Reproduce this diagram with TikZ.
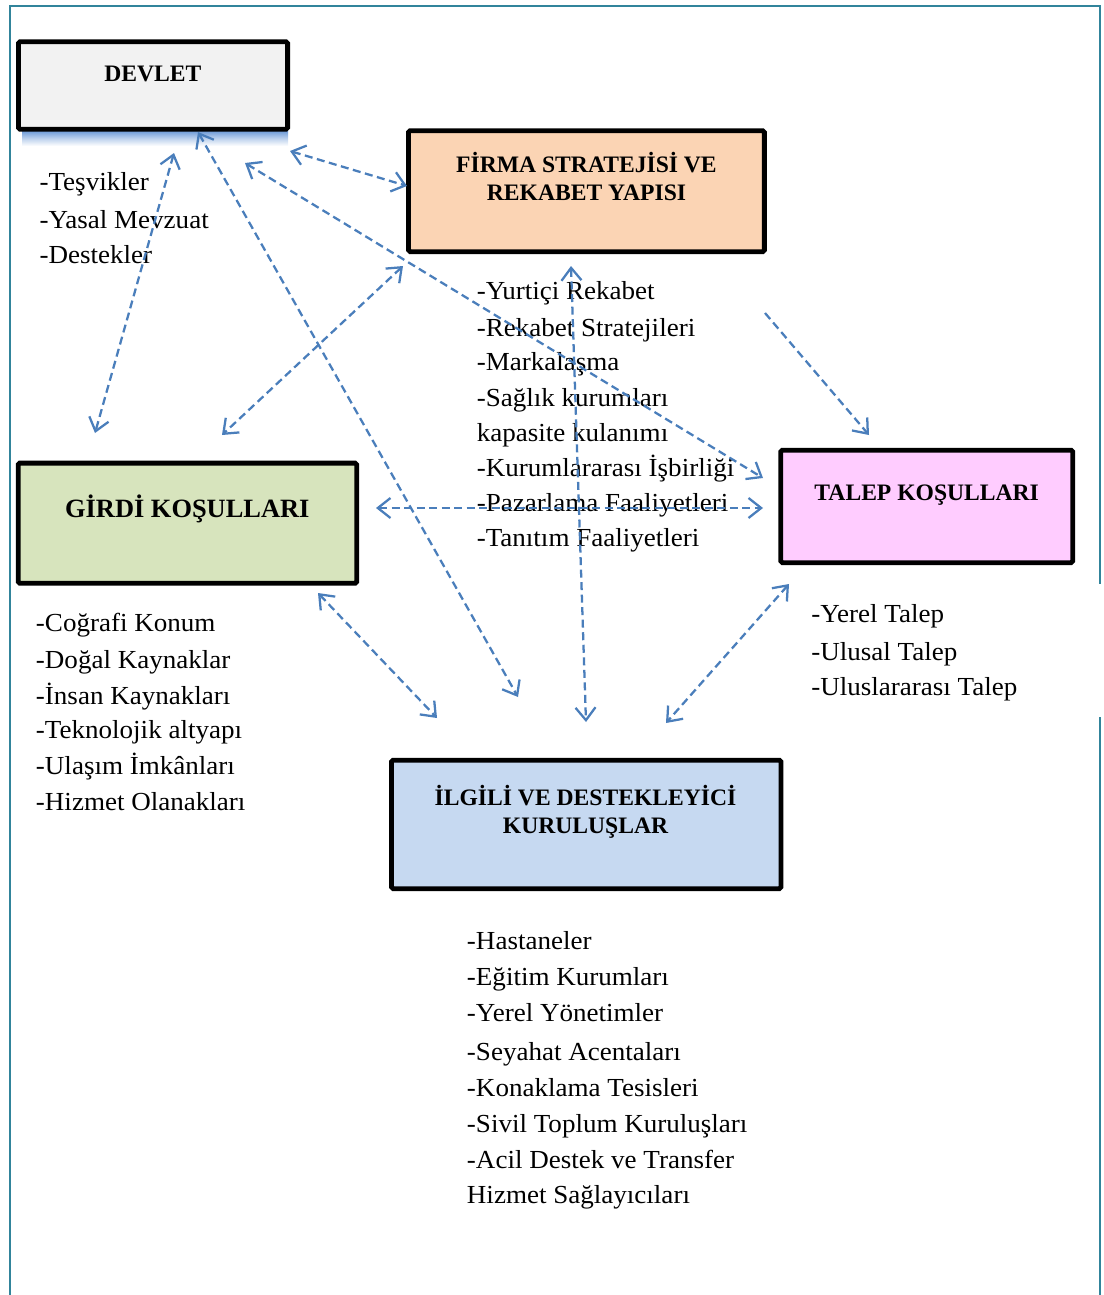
\documentclass[tikz,border=0pt]{standalone}
\usepackage{fontspec}
\setmainfont{Liberation Serif}
\newfontfamily\listfont{Liberation Serif}[FakeStretch=1.04]
\usetikzlibrary{arrows.meta}

\definecolor{framec}{HTML}{31849B}
\definecolor{arrowc}{HTML}{4A7EBB}
\definecolor{shadowc}{RGB}{110,155,215}
\definecolor{devletfill}{HTML}{F2F2F2}
\definecolor{firmafill}{HTML}{FBD4B4}
\definecolor{talepfill}{HTML}{FFCCFF}
\definecolor{girdifill}{HTML}{D7E4BD}
\definecolor{ilgilifill}{HTML}{C6D9F1}

\begin{document}
\begin{tikzpicture}[x=0.75pt,y=-0.75pt,
  box/.style={draw=black, line width=3.6pt, rounded corners=1.2pt, inner sep=0pt},
  boxtitle/.style={font=\bfseries\fontsize{17.7}{21}\selectfont, anchor=base, inner sep=0pt},
  item/.style={font=\listfont\fontsize{19.5}{23}\selectfont, anchor=base west, inner sep=0pt},
  link/.style={draw=arrowc, line width=1.7pt, dash pattern=on 6pt off 3.4pt},
  >={Straight Barb[length=9.5pt,width=15pt,line width=1.7pt]}]

\useasboundingbox (0,0) rectangle (1103,1295);

% page frame, interrupted on the right behind the demand list
\draw[framec, line width=1.6pt] (10,1300) -- (10,6) -- (1100,6) -- (1100,584);
\draw[framec, line width=1.6pt] (1100,717) -- (1100,1300);

% soft blue shadow below the state box
\shade[top color=shadowc, bottom color=white, middle color=shadowc!45] (22,131) rectangle (288,146);

% boxes
\node[box, fill=devletfill, minimum width={269.2*0.75pt}, minimum height={87.6*0.75pt}] (devlet) at (153,85.5) {};
\node[box, fill=firmafill, minimum width={355.9*0.75pt}, minimum height={120.9*0.75pt}] (firma) at (586.4,191.2) {};
\node[box, fill=talepfill, minimum width={291.9*0.75pt}, minimum height={112.5*0.75pt}] (talep) at (926.7,506.4) {};
\node[box, fill=girdifill, minimum width={338.5*0.75pt}, minimum height={120.2*0.75pt}] (girdi) at (187.4,523.2) {};
\node[box, fill=ilgilifill, minimum width={389.5*0.75pt}, minimum height={128.5*0.75pt}] (ilgili) at (586.2,824.4) {};

% box titles
\node[boxtitle] (devletT) at (152.8,81.7) {DEVLET};
\node[boxtitle] (firmaTa) at (586.5,172.7) {FİRMA STRATEJİSİ VE};
\node[boxtitle] (firmaTb) at (586.5,200) {REKABET YAPISI};
\node[boxtitle] (talepT) at (926.7,500.7) {TALEP KOŞULLARI};
\node[boxtitle, font=\bfseries\fontsize{19.8}{23}\selectfont] (girdiT) at (187.3,517.3) {GİRDİ KOŞULLARI};
\node[boxtitle] (ilgiliTa) at (585.5,805) {İLGİLİ VE DESTEKLEYİCİ};
\node[boxtitle] (ilgiliTb) at (585.5,833.3) {KURULUŞLAR};

% lists of factors
\foreach \y/\t [count=\i] in {190/{-Teşvikler}, 228/{-Yasal Mevzuat}, 263/{-Destekler}}
  \node[item] (devletL\i) at (39.3,\y) {\t};

\foreach \y/\t [count=\i] in {299.3/{-Yurtiçi Rekabet}, 336/{-Rekabet Stratejileri},
    370.7/{-Markalaşma}, 406.2/{-Sağlık kurumları}, 441.4/{kapasite kulanımı},
    476/{-Kurumlararası İşbirliği}, 511.5/{-Pazarlama Faaliyetleri}, 546.5/{-Tanıtım Faaliyetleri}}
  \node[item] (firmaL\i) at (476.5,\y) {\t};

\foreach \y/\t [count=\i] in {631.7/{-Coğrafi Konum}, 668.3/{-Doğal Kaynaklar},
    704/{-İnsan Kaynakları}, 738.3/{-Teknolojik altyapı}, 774/{-Ulaşım İmkânları},
    810/{-Hizmet Olanakları}}
  \node[item] (girdiL\i) at (35.7,\y) {\t};

\foreach \y/\t [count=\i] in {622.3/{-Yerel Talep}, 660/{-Ulusal Talep}, 695/{-Uluslararası Talep}}
  \node[item] (talepL\i) at (811,\y) {\t};

\foreach \y/\t [count=\i] in {949.3/{-Hastaneler}, 985/{-Eğitim Kurumları},
    1021.7/{-Yerel Yönetimler}, 1060/{-Seyahat Acentaları}, 1096/{-Konaklama Tesisleri},
    1132.7/{-Sivil Toplum Kuruluşları}, 1168.3/{-Acil Destek ve Transfer},
    1203.3/{Hizmet Sağlayıcıları}}
  \node[item] (ilgiliL\i) at (466.7,\y) {\t};

% connector end points
\coordinate (dvF)  at (290,151);
\coordinate (fmD)  at (407,186);
\coordinate (dvT)  at (245,163);
\coordinate (tlD)  at (763,478);
\coordinate (dvG)  at (174,153);
\coordinate (gdD)  at (95,433);
\coordinate (dvI)  at (198,132);
\coordinate (ilD)  at (518,697);
\coordinate (fmG)  at (403,266);
\coordinate (gdF)  at (222,435);
\coordinate (fmI)  at (571,266);
\coordinate (ilF)  at (586,722);
\coordinate (fmT)  at (765,313);
\coordinate (tlF)  at (869,435);
\coordinate (gdT)  at (376,508);
\coordinate (tlG)  at (763,508);
\coordinate (gdI)  at (318,593);
\coordinate (ilG)  at (437,718);
\coordinate (tlI)  at (789,584);
\coordinate (ilT)  at (666,723);

% dashed relations between the determinants
\draw[link,<->] (dvF) -- (fmD);
\draw[link,<->] (dvT) -- (tlD);
\draw[link,<->] (dvG) -- (gdD);
\draw[link,<->] (dvI) -- (ilD);
\draw[link,<->] (fmG) -- (gdF);
\draw[link,<->] (fmI) -- (ilF);
\draw[link,->]  (fmT) -- (tlF);
\draw[link,<->] (gdT) -- (tlG);
\draw[link,<->] (gdI) -- (ilG);
\draw[link,<->] (tlI) -- (ilT);
\end{tikzpicture}
\end{document}
